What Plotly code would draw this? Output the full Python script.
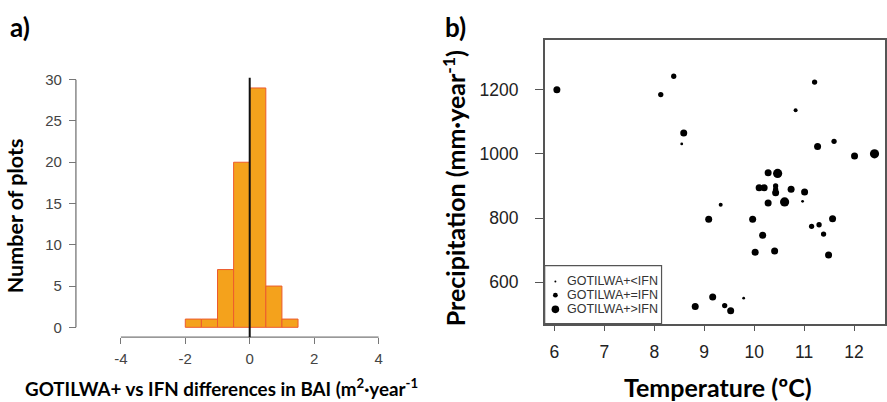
import plotly.graph_objects as go

# ---------------- data ----------------
# panel a: histogram of differences (bin edges and counts)
bin_edges = [-2.0, -1.5, -1.0, -0.5, 0.0, 0.5, 1.0, 1.5]
counts = [1, 1, 7, 20, 29, 5, 1]

# panel b: plots by temperature / precipitation, with point-size class
temperature = [6.05, 8.39, 8.13, 8.59, 8.55, 11.21, 10.83, 11.27, 11.60, 12.01,
               12.41, 10.28, 10.47, 10.10, 10.20, 10.43, 10.43, 10.43, 10.74, 11.01,
               10.97, 10.28, 10.61, 9.33, 9.09, 9.97, 11.15, 11.30, 11.39, 11.57,
               10.17, 10.02, 10.41, 11.49, 8.82, 9.17, 9.41, 9.53, 9.79]
precipitation = [1200, 1242, 1185, 1065, 1031, 1224, 1136, 1023, 1039, 993,
                 1000, 941, 939, 894, 894, 900, 889, 879, 890, 881,
                 852, 847, 850, 841, 796, 796, 774, 779, 750, 798,
                 746, 693, 697, 685, 524, 554, 527, 511, 550]
size_class = [4, 3, 3, 4, 1, 3, 2, 4, 3, 4,
              5, 4, 5, 4, 4, 3, 3, 4, 4, 4,
              1, 4, 5, 2, 4, 4, 3, 3, 3, 4,
              4, 4, 4, 4, 4, 4, 3, 4, 1]
legend_labels = ["GOTILWA+&lt;IFN", "GOTILWA+=IFN", "GOTILWA+&gt;IFN"]

x_ticks_a = [-4, -2, 0, 2, 4]
y_ticks_a = [0, 5, 10, 15, 20, 25, 30]
x_ticks_b = [6, 7, 8, 9, 10, 11, 12]
y_ticks_b = [600, 800, 1000, 1200]

# ---------------- layout helpers ----------------
W, H = 887, 402
def fx(px):
    return px / W
def fy(py):
    return 1 - py / H

SIZE_PX = {1: 2.8, 2: 4.0, 3: 5.3, 4: 7.0, 5: 9.2}
TICKFONT = "Liberation Sans, Arial, sans-serif"
TITLEFONT = "Lato, Open Sans, sans-serif"

fig = go.Figure()

centers = [(bin_edges[i] + bin_edges[i + 1]) / 2 for i in range(len(counts))]
widths = [bin_edges[i + 1] - bin_edges[i] for i in range(len(counts))]
fig.add_trace(go.Bar(
    x=centers, y=counts, width=widths,
    marker=dict(color="#F4A21C", line=dict(color="#EC5B2E", width=1)),
    xaxis="x", yaxis="y", showlegend=False, hoverinfo="x+y"))

fig.add_trace(go.Scatter(
    x=temperature, y=precipitation, mode="markers",
    marker=dict(color="#000000", size=[SIZE_PX[c] for c in size_class],
                opacity=1, line=dict(width=0)),
    xaxis="x2", yaxis="y2", showlegend=False))

axis_common = dict(showgrid=False, zeroline=False, ticks="outside")

fig.update_layout(
    width=W, height=H, autosize=False,
    margin=dict(l=0, r=0, t=0, b=0),
    paper_bgcolor="white", plot_bgcolor="white",
    showlegend=False,
    xaxis=dict(domain=[fx(110.7), fx(389.3)], range=[-4.32, 4.32], anchor="y",
               tickvals=x_ticks_a, ticktext=[str(v) for v in x_ticks_a],
               ticklen=6, tickcolor="#777", showline=False,
               tickfont=dict(family=TICKFONT, size=15, color="#444"),
               ticklabelstandoff=2, **axis_common),
    yaxis=dict(domain=[fy(336), fy(71.9)], range=[-1.19, 30.25],
               anchor="free", position=fx(76),
               tickvals=y_ticks_a, ticktext=[str(v) for v in y_ticks_a],
               ticklen=7, tickcolor="#777", showline=False,
               tickfont=dict(family=TICKFONT, size=15, color="#444"),
               ticklabelstandoff=4, **axis_common),
    xaxis2=dict(domain=[fx(545.3), fx(886)], range=[5.806, 12.62], anchor="y2",
                tickvals=x_ticks_b, ticklen=6, tickcolor="#555",
                showline=True, mirror=True, linecolor="#555", linewidth=1.5,
                tickfont=dict(family=TICKFONT, size=17.5, color="#222"),
                ticklabelstandoff=6, **axis_common),
    yaxis2=dict(domain=[fy(322.3), fy(33.3)], range=[470.4, 1356], anchor="x2",
                tickvals=y_ticks_b, ticklen=8, tickcolor="#555",
                showline=True, mirror=True, linecolor="#555", linewidth=1.5,
                tickfont=dict(family=TICKFONT, size=17.5, color="#222"),
                ticklabelstandoff=13, **axis_common),
)

shapes = []
# R-style axis lines for panel a
shapes.append(dict(type="line", xref="paper", yref="y", x0=fx(76), x1=fx(76),
                   y0=y_ticks_a[0], y1=y_ticks_a[-1], line=dict(color="#777", width=1.3)))
shapes.append(dict(type="line", xref="x", yref="paper", x0=x_ticks_a[0], x1=x_ticks_a[-1],
                   y0=fy(336), y1=fy(336), line=dict(color="#777", width=1.3)))
# vertical zero line
shapes.append(dict(type="line", xref="x", yref="y domain", x0=0, x1=0, y0=0, y1=1,
                   line=dict(color="#111", width=2)))
# legend box panel b
shapes.append(dict(type="rect", xref="paper", yref="paper",
                   x0=fx(545.3), x1=fx(662.3), y0=fy(322.3), y1=fy(263.3),
                   line=dict(color="#555", width=1.2), fillcolor="white", layer="above"))
legend_rows = [279.3, 293.3, 307.7]
legend_dot = [1.0, 2.4, 3.8]
annotations = []
for lab, ry, r in zip(legend_labels, legend_rows, legend_dot):
    shapes.append(dict(type="circle", xref="paper", yref="paper",
                       xsizemode="pixel", ysizemode="pixel",
                       xanchor=fx(556), yanchor=fy(ry),
                       x0=-r, x1=r, y0=-r, y1=r,
                       line=dict(width=0), fillcolor="black", layer="above"))
    annotations.append(dict(text=lab, xref="paper", yref="paper", x=fx(566), y=fy(ry),
                            xanchor="left", yanchor="middle", showarrow=False,
                            font=dict(family=TICKFONT, size=12.5, color="#333")))

def ann(text, x, y, size, angle=0):
    return dict(text=text, x=fx(x), y=fy(y), xref="paper", yref="paper",
                xanchor="center", yanchor="middle", showarrow=False, textangle=angle,
                font=dict(family=TITLEFONT, size=size, color="black"))

# titles & panel labels
annotations += [
    ann("<b>a)</b>", 20, 20, 26),
    ann("<b>b)</b>", 456, 20, 26),
    ann("<b>Number of plots</b>", 15, 212, 21.5, -90),
    ann("<b>GOTILWA+ vs IFN differences in BAI (m<sup>2</sup>·year<sup>-1</sup></b>", 222, 387, 18.8),
    ann("<b>Precipitation (mm·year<sup>-1</sup>)</b>", 455, 184, 25, -90),
    ann("<b>Temperature (ºC)</b>", 719, 387, 25),
]

fig.update_layout(shapes=shapes, annotations=annotations)
fig.write_html(
    "out.html",
    config={"displayModeBar": False},
    post_script="document.body.style.margin='0';document.body.style.overflow='hidden';")
